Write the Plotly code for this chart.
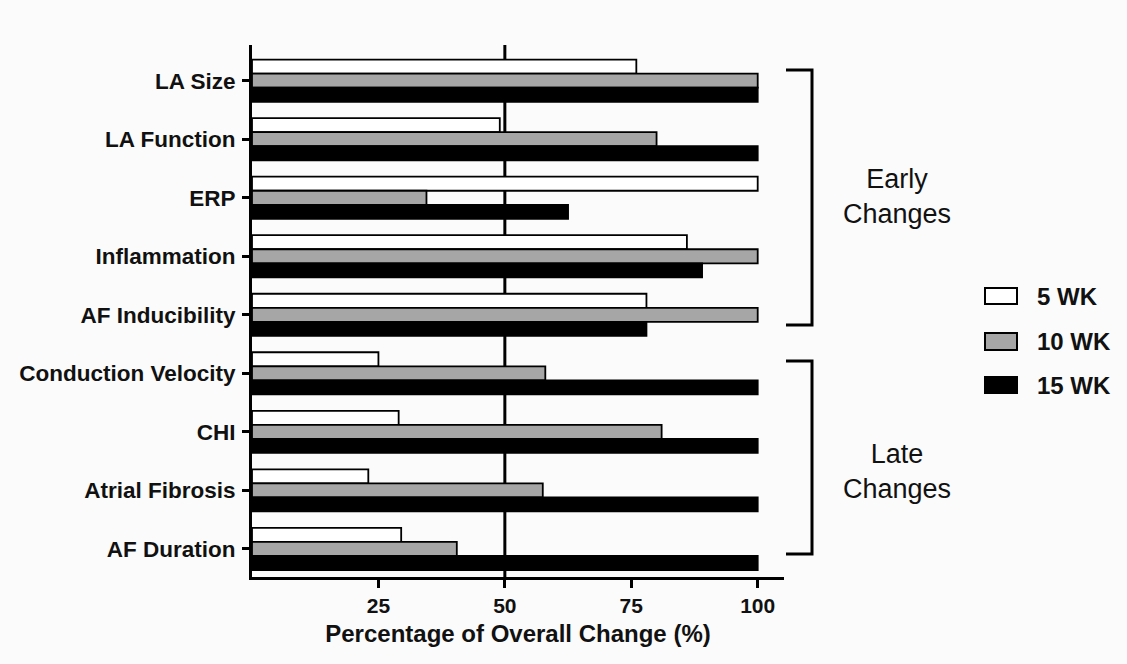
import plotly.graph_objects as go

# Measures, top to bottom
categories = [
    "LA Size", "LA Function", "ERP", "Inflammation", "AF Inducibility",
    "Conduction Velocity", "CHI", "Atrial Fibrosis", "AF Duration",
]
wk5 = [76, 49, 100, 86, 78, 25, 29, 23, 29.5]
wk10 = [100, 80, 34.5, 100, 100, 58, 81, 57.5, 40.5]
wk15 = [100, 100, 62.5, 89, 78, 100, 100, 100, 100]

series_names = ["5 WK", "10 WK", "15 WK"]
series_values = [wk5, wk10, wk15]
fills = ["#ffffff", "#a6a6a6", "#000000"]

x_ticks = [25, 50, 75, 100]

# Plot-area geometry in pixels (used to place brackets and legend keys)
W, H = 1127, 664
L, R, T, B = 252, 784, 45, 577


def px_x(p):
    return (p - L) / (R - L)


def px_y(p):
    return (B - p) / (B - T)


FONT = "Liberation Sans, Arial, sans-serif"
INK = "#111111"

fig = go.Figure()
for name, vals, col in zip(series_names, series_values, fills):
    fig.add_trace(go.Bar(
        y=categories, x=vals, name=name, orientation="h",
        marker=dict(color=col, line=dict(color="#000000", width=1.8)),
        showlegend=False,
    ))

shapes = []
# reference line at 50 %
shapes.append(dict(type="line", xref="x", yref="paper", x0=50, x1=50, y0=0, y1=1,
                   line=dict(color="#000000", width=3), layer="below"))

# group brackets
for top, bot in [(70, 325), (361, 554)]:
    shapes.append(dict(type="path", xref="paper", yref="paper",
                       path=f"M {px_x(786)},{px_y(top)} L {px_x(812)},{px_y(top)} "
                            f"L {px_x(812)},{px_y(bot)} L {px_x(786)},{px_y(bot)}",
                       line=dict(color="#000000", width=3)))

annotations = [
    dict(text="Early<br>Changes", x=px_x(897), y=px_y(196), xref="paper", yref="paper",
         xanchor="center", yanchor="middle", showarrow=False,
         font=dict(family=FONT, size=27, color=INK), align="center"),
    dict(text="Late<br>Changes", x=px_x(897), y=px_y(472), xref="paper", yref="paper",
         xanchor="center", yanchor="middle", showarrow=False,
         font=dict(family=FONT, size=27, color=INK), align="center"),
]

# legend keys
for (y0, y1, yc), name, col in zip([(288, 304, 296), (333, 350, 341), (377, 393, 385)],
                                   series_names, fills):
    shapes.append(dict(type="rect", xref="paper", yref="paper",
                       x0=px_x(985), x1=px_x(1017), y0=px_y(y1), y1=px_y(y0),
                       fillcolor=col, line=dict(color="#000000", width=2)))
    annotations.append(dict(text=f"<b>{name}</b>", x=px_x(1035), y=px_y(yc),
                            xref="paper", yref="paper", xanchor="left", yanchor="middle",
                            showarrow=False, font=dict(family=FONT, size=24, color=INK)))

fig.update_layout(
    width=W, height=H, autosize=False,
    margin=dict(l=L, r=W - R, t=T, b=H - B, pad=0),
    paper_bgcolor="#fbfbfb", plot_bgcolor="#fbfbfb",
    barmode="group", bargap=0.28, bargroupgap=0,
    shapes=shapes, annotations=annotations,
    font=dict(family=FONT, color=INK),
    xaxis=dict(
        range=[0, 105.2], tickvals=x_ticks, ticktext=[f"<b>{v}</b>" for v in x_ticks],
        showgrid=False, zeroline=False, showline=True, linecolor="#000000", linewidth=3,
        ticks="outside", ticklen=8, tickwidth=3, tickcolor="#000000",
        tickfont=dict(family=FONT, size=21, color=INK),
        title=dict(text="<b>Percentage of Overall Change (%)</b>",
                   font=dict(family=FONT, size=24, color=INK), standoff=9),
    ),
    yaxis=dict(
        type="category", categoryorder="array", categoryarray=categories,
        range=[8.48, -0.61], tickvals=categories,
        ticktext=[f"<b>{c}</b>" for c in categories],
        showgrid=False, zeroline=False, showline=True, linecolor="#000000", linewidth=3,
        ticks="outside", ticklen=7, tickwidth=3, tickcolor="#000000",
        tickfont=dict(family=FONT, size=22.5, color=INK), ticklabelstandoff=2,
    ),
)

fig.write_html("out.html")
